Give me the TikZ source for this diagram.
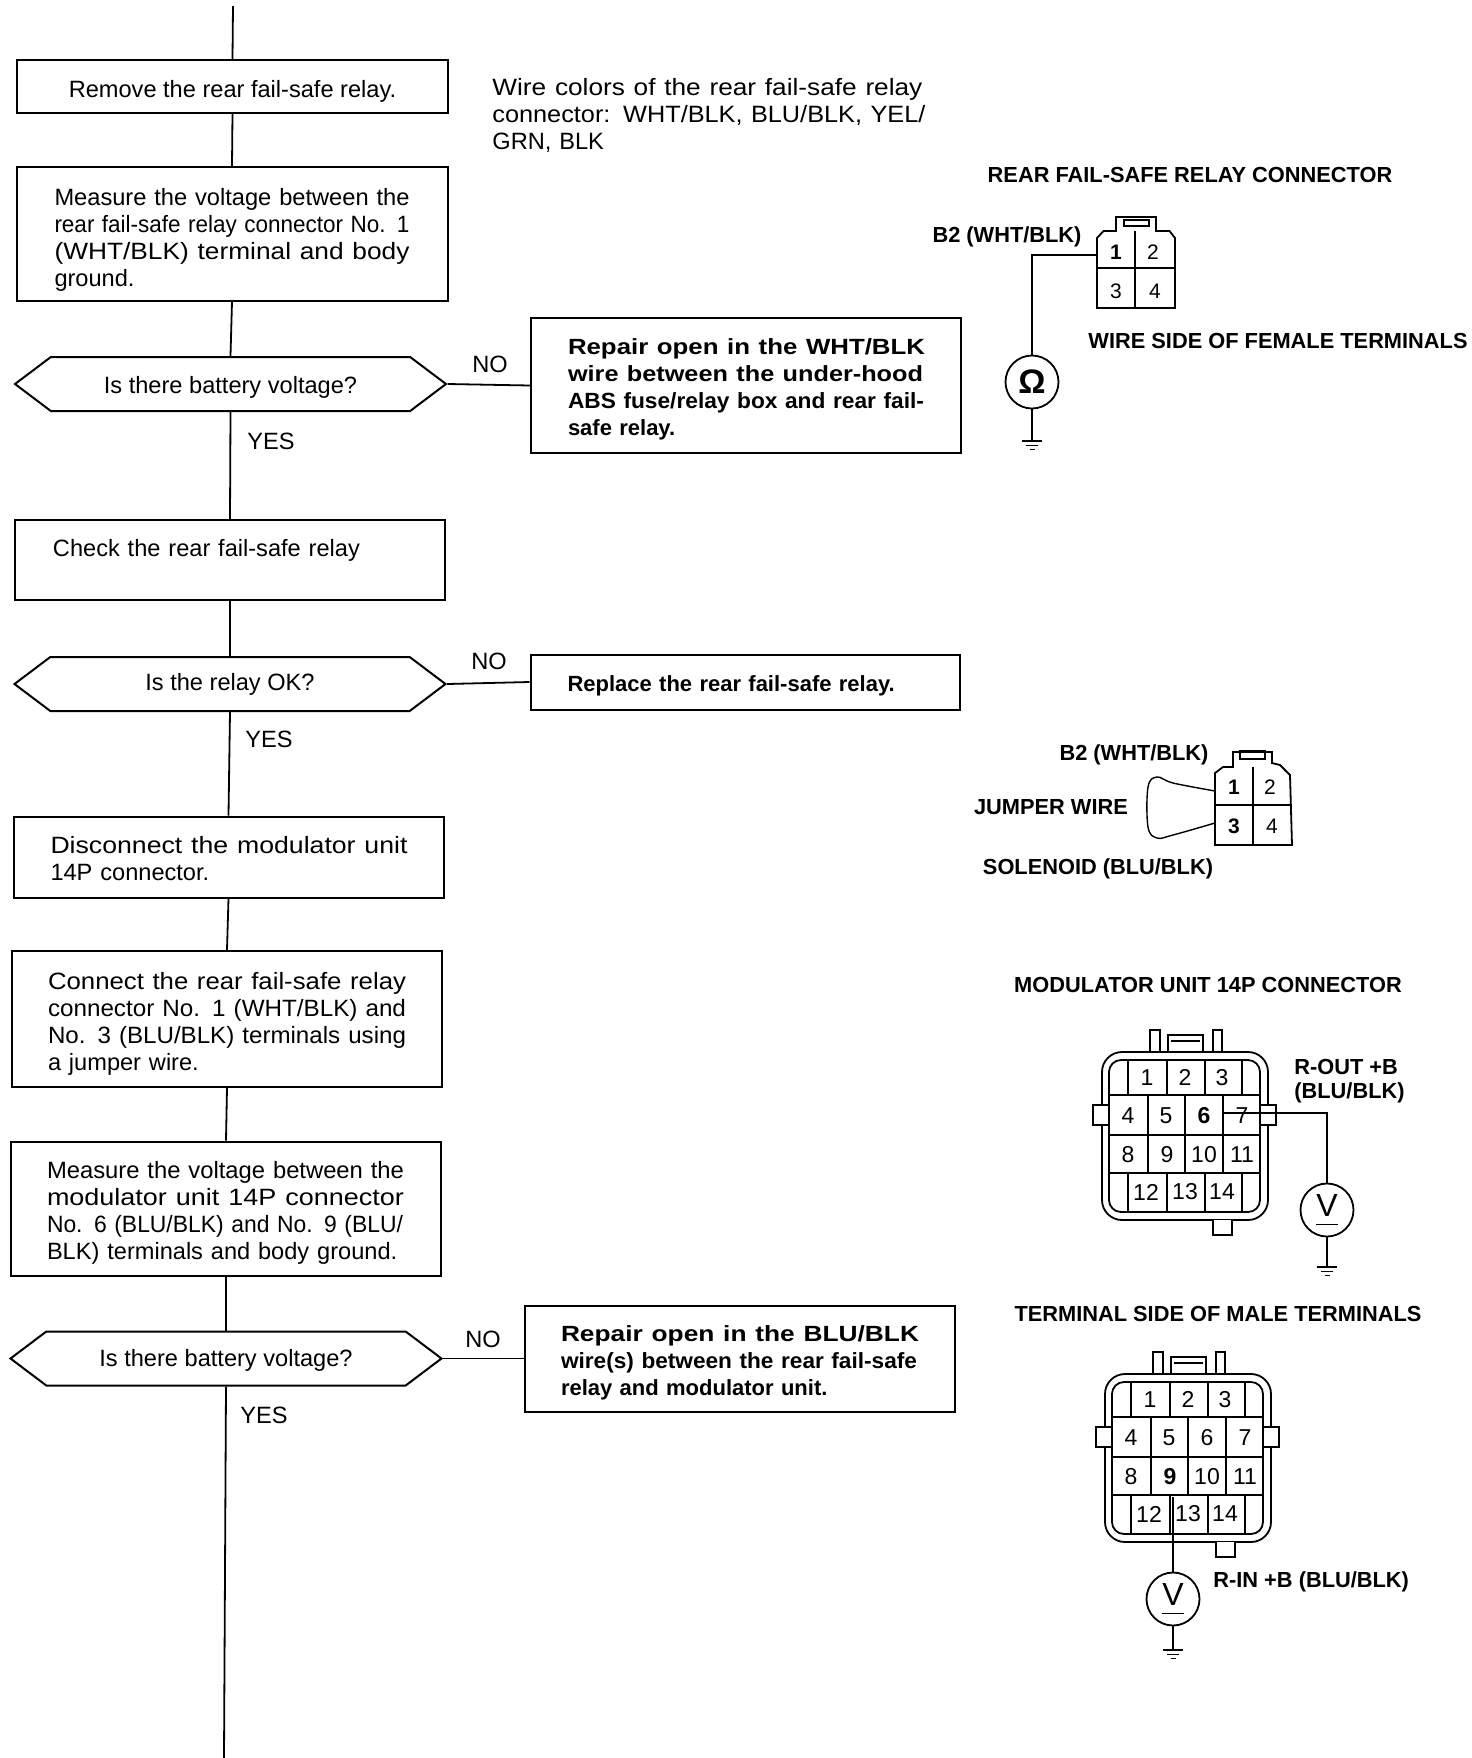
\documentclass[tikz,border=0pt]{standalone}
\usepackage{graphicx}
\usepackage{fontspec}
\setmainfont{Liberation Sans}
\usetikzlibrary{shapes.symbols}
\newcommand{\fl}[2]{\resizebox{#1}{\height}{#2}}
\newcommand{\dn}[1]{\rule{0pt}{#1}}
\newcommand{\vbar}{\underline{V\rule[-3pt]{0pt}{1pt}}}
\tikzset{
  wire/.style={line width=0.9pt},
  stepbox/.style={draw,line width=1pt,inner ysep=0pt,align=left,font=\fontsize{11.8}{13.5}\selectfont},
  boldbox/.style={stepbox,font=\fontsize{11}{13.5}\selectfont\bfseries},
  askbox/.style={draw,line width=1pt,signal,signal to=east and west,signal pointer angle=74,inner sep=0pt,minimum width=215.5pt,minimum height=27pt,font=\fontsize{11.8}{13.5}\selectfont},
  answer/.style={font=\fontsize{11.8}{13.5}\selectfont},
  caption/.style={font=\fontsize{10.9}{13}\selectfont\bfseries,inner sep=0pt},
  pinnum/.style={inner sep=0pt,font=\fontsize{11.5}{12}\selectfont},
  smallpin/.style={inner sep=0pt,font=\fontsize{10.5}{12}\selectfont},
  meter/.style={draw,circle,line width=0.9pt,inner sep=0pt,minimum size=26.5pt},
  gndsym/.pic={
    \draw[wire] (-10,0) -- (10,0);
    \draw[line width=0.7pt] (-6,4.5) -- (6,4.5);
    \draw[line width=0.7pt] (-2.5,8.5) -- (2.5,8.5);
  },
  conn14/.pic={
    \draw[wire,rounded corners=10pt] (-7,-8) rectangle (159,160);
    \draw[wire,rounded corners=6pt] (0,0) rectangle (151,152);
    \draw[wire,fill=white] (-1,45) -- (-16,45) -- (-16,65) -- (-1,65);
    \draw[wire,fill=white] (152,45) -- (167,45) -- (167,65) -- (152,65);
    \draw[wire] (41,-8) -- (41,-30) -- (51,-30) -- (51,-8);
    \draw[wire] (104,-8) -- (104,-30) -- (113,-30) -- (113,-8);
    \draw[wire] (59,-9) -- (59,-25) -- (94,-25) -- (94,-9);
    \draw[line width=0.6pt] (62,-19) -- (91,-19);
    \draw[wire,fill=white] (104,160) -- (104,175) -- (123,175) -- (123,160);
    \foreach \gy in {35,75,113} \draw[wire] (0,\gy) -- (151,\gy);
    \foreach \gx in {19,58,96,133} {
      \draw[wire] (\gx,0) -- (\gx,35);
      \draw[wire] (\gx,113) -- (\gx,152);
    }
    \foreach \gx in {39,76,114} \draw[wire] (\gx,35) -- (\gx,113);
    \foreach \n/\cx/\cy in {1/38/18,2/76/17,3/113/18,4/19/56,5/57/56,6/95/56,7/133/56,8/19/95,9/58/95,10/95/95,11/133/95,12/37/132,13/76/132,14/113/132}
      \node[pinnum] (p\n) at (\cx,\cy) {\ifnum\n=#1\bfseries\fi\n};
  },
}
\begin{document}
\begin{tikzpicture}[x=0.5pt,y=-0.5pt]
\useasboundingbox (0,0) rectangle (1472,1758);
% left column
\node[stepbox,minimum width=215.5pt,minimum height=26.5pt,align=center] (remove) at (232.5,86.5) {\dn{13.1pt}Remove the rear fail-safe relay.};
\node[stepbox,text width=177.5pt,inner xsep=19pt,minimum height=67pt] (measureA) at (232,234) {\dn{14.2pt}\fl{177.5pt}{Measure the voltage between the}\\\fl{177.5pt}{rear fail-safe relay connector No. 1}\\\fl{177.5pt}{(WHT/BLK) terminal and body}\\ground.};
\node[askbox] (askA) at (230.5,384) {\dn{12pt}Is there battery voltage?};
\node[stepbox,text width=177pt,inner xsep=19pt,minimum height=40pt,text depth=12.5pt] (check) at (230,560) {Check the rear fail-safe relay};
\node[askbox] (askB) at (230,684) {Is the relay OK?};
\node[stepbox,text width=178pt,inner xsep=18.5pt,minimum height=40.5pt] (disconnect) at (228.5,857) {\dn{10pt}\fl{178.5pt}{Disconnect the modulator unit}\\14P connector.};
\node[stepbox,text width=179pt,inner xsep=18pt,minimum height=68pt] (jumper) at (227,1019) {\dn{13.1pt}\fl{179pt}{Connect the rear fail-safe relay}\\\fl{179pt}{connector No. 1 (WHT/BLK) and}\\\fl{179pt}{No. 3 (BLU/BLK) terminals using}\\a jumper wire.};
\node[stepbox,text width=179pt,inner xsep=18pt,minimum height=67pt] (measureB) at (226,1208.5) {\dn{13.1pt}\fl{178.5pt}{Measure the voltage between the}\\\fl{178.5pt}{modulator unit 14P connector}\\\fl{178pt}{No. 6 (BLU/BLK) and No. 9 (BLU/}\\BLK) terminals and body ground.};
\node[askbox] (askC) at (226,1358.5) {\dn{10.8pt}Is there battery voltage?};
\coordinate (top) at (233,6);
\coordinate (bottom) at (224,1758);
\draw[wire] (top) -- (remove.north);
\draw[wire] (remove.south) -- (measureA.north);
\draw[wire] (measureA.south) -- (askA.north);
\draw[wire] (askA.south) -- (check.north);
\draw[wire] (check.south) -- (askB.north);
\draw[wire] (askB.south) -- (disconnect.north);
\draw[wire] (disconnect.south) -- (jumper.north);
\draw[wire] (jumper.south) -- (measureB.north);
\draw[wire] (measureB.south) -- (askC.north);
\draw[wire] (askC.south) -- (bottom);
\node[answer] (yesA) at (271,441) {YES};
\node[answer] (yesB) at (269,739) {YES};
\node[answer] (yesC) at (264,1415) {YES};
% repair boxes
\node[boldbox,text width=178pt,inner xsep=18.5pt,minimum height=67.5pt] (repairA) at (746,385.5) {\dn{12pt}\fl{178.5pt}{Repair open in the WHT/BLK}\\\fl{177.5pt}{wire between the under-hood}\\\fl{178pt}{ABS fuse/relay box and rear fail-}\\safe relay.};
\node[boldbox,text width=177.5pt,inner xsep=18.5pt,minimum height=27.5pt] (replace) at (745,682) {\dn{12.2pt}Replace the rear fail-safe relay.};
\node[boldbox,text width=179pt,inner xsep=18pt,minimum height=53pt] (repairB) at (740,1358.5) {\dn{12.2pt}\fl{179pt}{Repair open in the BLU/BLK}\\\fl{178pt}{wire(s) between the rear fail-safe}\\relay and modulator unit.};
\draw[wire] (askA.east) -- (repairA.west);
\draw[wire] (askB.east) -- (replace.west);
\draw[wire] (askC.east) -- (repairB.west);
\node[answer] (noA) at (490,364) {NO};
\node[answer] (noB) at (489,661) {NO};
\node[answer] (noC) at (483,1339) {NO};
\node[answer,text width=216.5pt,inner sep=0pt,align=left,anchor=north west] (colors) at (492,78) {\fl{215pt}{Wire colors of the rear fail-safe relay}\\\fl{216.5pt}{connector: WHT/BLK, BLU/BLK, YEL/}\\GRN, BLK};
% rear fail-safe relay connector
\node[caption] (titleA) at (1190,175) {REAR FAIL-SAFE RELAY CONNECTOR};
\node[caption] (b2A) at (1007,237) {B2 (WHT/BLK)};
\node[caption] (sideA) at (1278,341) {WIRE SIDE OF FEMALE TERMINALS};
\draw[wire] (1097,308) -- (1097,238) -- (1103.5,231) -- (1116,231) -- (1116,217) -- (1156,217) -- (1156,231) -- (1169.5,231) -- (1175,238) -- (1175,308) -- cycle;
\draw[line width=0.6pt] (1124,226) -- (1124,220) -- (1149,220) -- (1149,226) -- cycle;
\draw[wire] (1135,231) -- (1135,308);
\draw[wire] (1097,268) -- (1175,268);
\node[smallpin,font=\fontsize{10.5}{12}\selectfont\bfseries] (relayA) at (1116,252) {1};
\node[smallpin] (relayB) at (1153,252) {2};
\node[smallpin] (relayC) at (1116,291) {3};
\node[smallpin] (relayD) at (1155,291) {4};
\coordinate (tapOhm) at (1097,255);
\node[meter,font=\fontsize{17}{18}\selectfont\bfseries] (ohm) at (1032,382) {Ω};
\coordinate (gndOhm) at (1032,441);
\draw[wire] (tapOhm) -| (ohm.north);
\draw[wire] (ohm.south) -- (gndOhm);
\pic at (gndOhm) {gndsym};
% jumper wire
\node[caption] (b2B) at (1134,755) {B2 (WHT/BLK)};
\node[caption] (jumperlabel) at (1051,807) {JUMPER WIRE};
\node[caption] (solenoid) at (1098,869) {SOLENOID (BLU/BLK)};
\draw[wire] (1215,845) -- (1215,773) -- (1223,767) -- (1233,767) -- (1233,752) -- (1272,752) -- (1272,763) -- (1280,765) -- (1290,775) -- (1292,845) -- cycle;
\draw[line width=0.6pt] (1240,759) -- (1240,751) -- (1265,751) -- (1265,759) -- cycle;
\draw[line width=0.6pt] (1253,767) -- (1253,845);
\draw[wire] (1215,805) -- (1292,805);
\node[smallpin,font=\fontsize{10.5}{12}\selectfont\bfseries] (testA) at (1234,787) {1};
\node[smallpin] (testB) at (1270,787) {2};
\node[smallpin,font=\fontsize{10.5}{12}\selectfont\bfseries] (testC) at (1234,826) {3};
\node[smallpin] (testD) at (1272,826) {4};
\draw[line width=0.7pt] plot[smooth,tension=0.6] coordinates {(1215,791) (1173,783) (1157,777) (1148,787) (1148,827) (1157,838) (1173,835) (1215,823)};
% modulator unit connector
\node[caption] (titleB) at (1208,985) {MODULATOR UNIT 14P CONNECTOR};
\node[caption,anchor=west] (routA) at (1294,1067) {R-OUT +B};
\node[caption,anchor=west] (routB) at (1294,1093) {(BLU/BLK)};
\pic (modA) at (1109,1060) {conn14=6};
\coordinate (tapOut) at (1223,1113);
\node[meter,font=\fontsize{16}{17}\selectfont] (vout) at (1327,1210) {\vbar};
\coordinate (gndOut) at (1327,1267);
\draw[wire] (tapOut) -| (vout.north);
\draw[wire] (vout.south) -- (gndOut);
\pic at (gndOut) {gndsym};
% terminal side
\node[caption] (titleC) at (1218,1314) {TERMINAL SIDE OF MALE TERMINALS};
\pic (modB) at (1112,1382) {conn14=9};
\node[caption,anchor=west] (rin) at (1213,1582) {R-IN +B (BLU/BLK)};
\coordinate (tapIn) at (1173,1497);
\node[meter,font=\fontsize{16}{17}\selectfont] (vin) at (1173,1599) {\vbar};
\coordinate (gndIn) at (1173,1650);
\draw[wire] (tapIn) -- (vin.north);
\draw[wire] (vin.south) -- (gndIn);
\pic at (gndIn) {gndsym};
\end{tikzpicture}
\end{document}
